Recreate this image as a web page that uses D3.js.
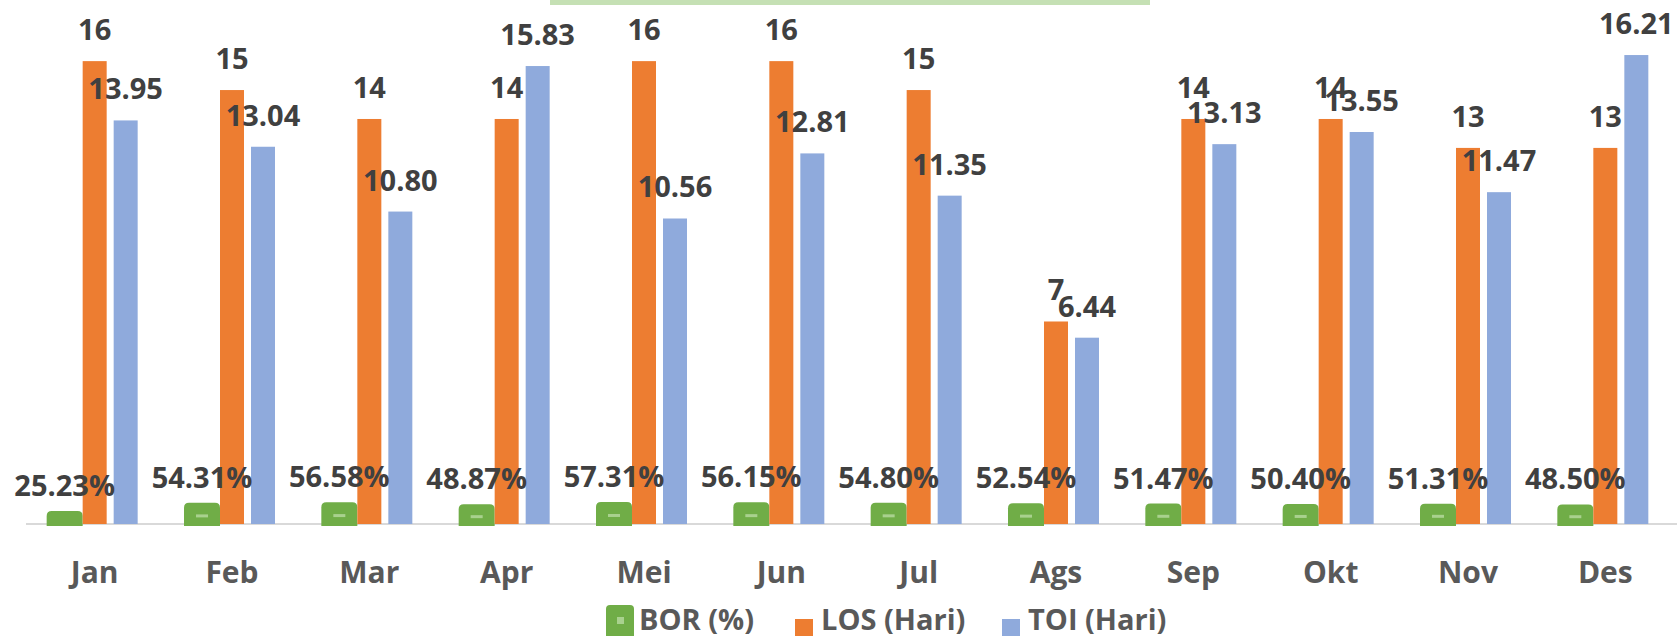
<!DOCTYPE html>
<html>
<head>
<meta charset="utf-8">
<script src="https://cdn.jsdelivr.net/npm/d3@7"></script>
<style>
  body { margin: 0; background: #fff; }
  svg { display: block; font-family: "Open Sans", sans-serif; font-weight: 700; }
</style>
</head>
<body>
<svg id="chart"></svg>
<script>
const months = ["Jan", "Feb", "Mar", "Apr", "Mei", "Jun", "Jul", "Ags", "Sep", "Okt", "Nov", "Des"];
const bor = [0.2523, 0.5431, 0.5658, 0.4887, 0.5731, 0.5615, 0.5480, 0.5254, 0.5147, 0.5040, 0.5131, 0.4850];
const los = [16, 15, 14, 14, 16, 16, 15, 7, 14, 14, 13, 13];
const toi = [13.95, 13.04, 10.80, 15.83, 10.56, 12.81, 11.35, 6.44, 13.13, 13.55, 11.47, 16.21];

const width = 1677, height = 636;
const baseline = 524;

const svg = d3.select("#chart")
  .attr("width", width)
  .attr("height", height);

// thin green strip left over from the title box
svg.append("rect")
  .attr("x", 550).attr("y", 0)
  .attr("width", 600).attr("height", 5)
  .attr("fill", "#c5e0b4");

const x = d3.scaleBand()
  .domain(months)
  .range([26, 1674]);

const y = d3.scaleLinear()
  .domain([0, 18])
  .range([baseline, baseline - 18 * 28.93]);

// BOR is a fraction, drawn as a short rounded stub
const yBor = d3.scaleLinear()
  .domain([0, 1])
  .range([baseline - 6, baseline - 34]);

const cx = m => x(m) + x.bandwidth() / 2;
const barW = 24;

// axis line
svg.append("line")
  .attr("x1", 26).attr("x2", width)
  .attr("y1", baseline).attr("y2", baseline)
  .attr("stroke", "#d9d9d9")
  .attr("stroke-width", 2);

// BOR bars
const borG = svg.append("g");
borG.selectAll("path")
  .data(months)
  .enter()
  .append("path")
  .attr("d", (m, i) => {
    const x0 = cx(m) - 30 - 18, x1 = cx(m) - 30 + 18;
    const t = yBor(bor[i]), b = baseline + 2, r = 5;
    return `M${x0},${b}V${t + r}Q${x0},${t} ${x0 + r},${t}H${x1 - r}Q${x1},${t} ${x1},${t + r}V${b}Z`;
  })
  .attr("fill", "#70ad47");

borG.selectAll("rect")
  .data(months.filter((m, i) => baseline - yBor(bor[i]) > 15))
  .enter()
  .append("rect")
  .attr("x", m => cx(m) - 30 - 6)
  .attr("y", m => (yBor(bor[months.indexOf(m)]) + baseline) / 2 + 1)
  .attr("width", 12)
  .attr("height", 3)
  .attr("fill", "#a9d18e");

// LOS bars
svg.append("g").selectAll("rect")
  .data(months)
  .enter()
  .append("rect")
  .attr("x", m => cx(m) - barW / 2)
  .attr("y", (m, i) => y(los[i]))
  .attr("width", barW)
  .attr("height", (m, i) => baseline - y(los[i]))
  .attr("fill", "#ed7d31");

// TOI bars
svg.append("g").selectAll("rect")
  .data(months)
  .enter()
  .append("rect")
  .attr("x", m => cx(m) + 31 - barW / 2)
  .attr("y", (m, i) => y(toi[i]))
  .attr("width", barW)
  .attr("height", (m, i) => baseline - y(toi[i]))
  .attr("fill", "#8faadc");

// labels
const labels = svg.append("g")
  .attr("fill", "#404040")
  .attr("font-size", 29)
  .attr("text-anchor", "middle");

labels.selectAll(".bor")
  .data(months)
  .enter()
  .append("text")
  .attr("x", m => cx(m) - 30)
  .attr("y", (m, i) => yBor(bor[i]) - 15)
  .text((m, i) => d3.format(".2%")(bor[i]));

labels.selectAll(".los")
  .data(months)
  .enter()
  .append("text")
  .attr("x", m => cx(m))
  .attr("y", (m, i) => y(los[i]) - 21)
  .text((m, i) => los[i]);

labels.selectAll(".toi")
  .data(months)
  .enter()
  .append("text")
  .attr("x", m => cx(m) + 31)
  .attr("y", (m, i) => y(toi[i]) - 21)
  .text((m, i) => d3.format(".2f")(toi[i]));

// x axis labels
svg.append("g")
  .attr("transform", `translate(0,${baseline})`)
  .call(d3.axisBottom(x).tickSize(0).tickPadding(0))
  .call(g => g.select(".domain").remove())
  .selectAll("text")
  .attr("y", 59)
  .attr("dy", null)
  .attr("fill", "#595959")
  .attr("font-size", 30)
  .attr("font-family", "Open Sans, sans-serif")
  .attr("font-weight", 700);

// legend
const legend = svg.append("g")
  .attr("font-size", 29)
  .attr("fill", "#595959");

legend.append("rect")
  .attr("x", 606).attr("y", 605)
  .attr("width", 28).attr("height", 34)
  .attr("rx", 4)
  .attr("fill", "#70ad47");
legend.append("rect")
  .attr("x", 617).attr("y", 617)
  .attr("width", 7).attr("height", 7)
  .attr("fill", "#a9d18e");
legend.append("text").attr("x", 639).attr("y", 630).text("BOR (%)");

legend.append("rect")
  .attr("x", 795).attr("y", 619)
  .attr("width", 18).attr("height", 18)
  .attr("fill", "#ed7d31");
legend.append("text").attr("x", 821).attr("y", 630).text("LOS (Hari)");

legend.append("rect")
  .attr("x", 1002).attr("y", 619)
  .attr("width", 18).attr("height", 18)
  .attr("fill", "#8faadc");
legend.append("text").attr("x", 1028).attr("y", 630).text("TOI (Hari)");
</script>
</body>
</html>
